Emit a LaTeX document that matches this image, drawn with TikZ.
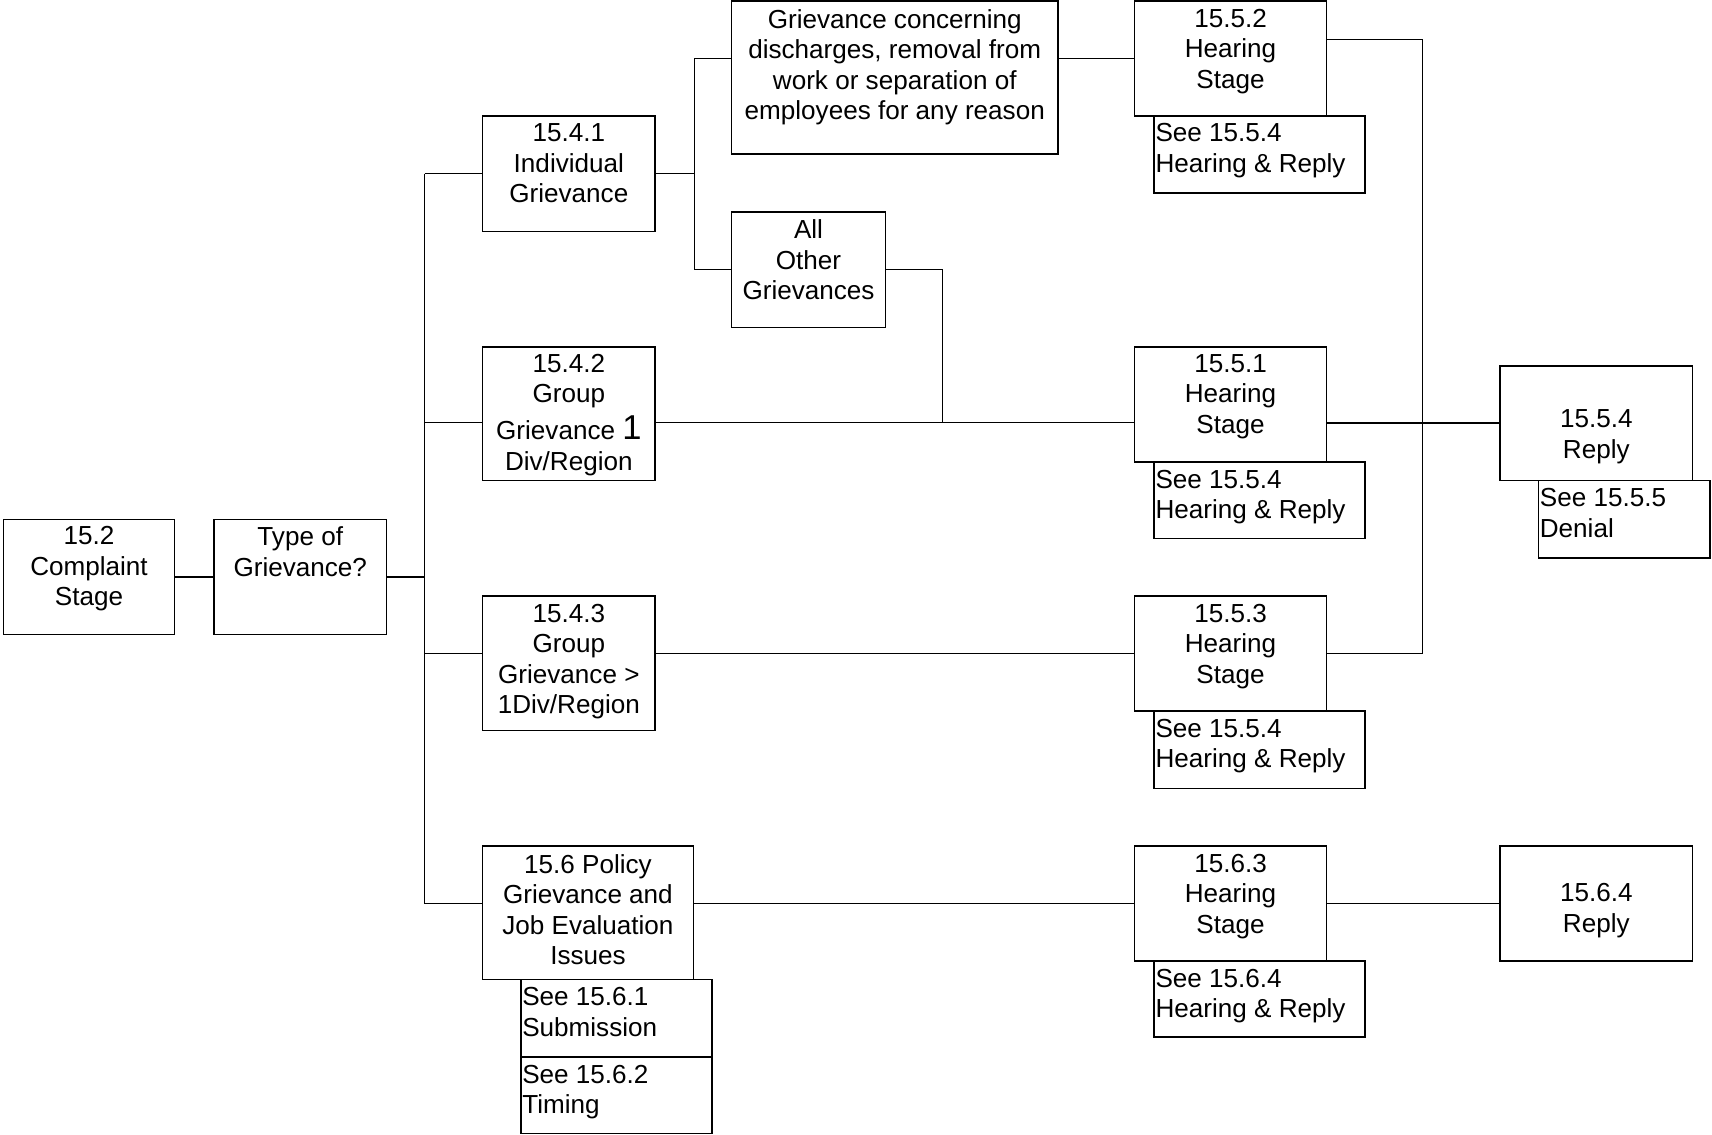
\documentclass[tikz,border=0pt]{standalone}
\usepackage{fontspec}
\setmainfont{Liberation Sans}
\usetikzlibrary{fit}
\begin{document}
\begin{tikzpicture}[x=0.02cm,y=-0.02cm,
  box/.style={draw, line width=0.8pt, inner sep=0pt, rectangle},
  txt/.style={font=\fontsize{13.6pt}{15.9pt}\selectfont, align=center, inner sep=0pt, anchor=north},
  ltxt/.style={font=\fontsize{13.6pt}{15.9pt}\selectfont, align=left, inner sep=0pt, anchor=north west},
  link/.style={line width=0.8pt}]
\useasboundingbox (0,0) rectangle (1568,1039.5);

% boxes
\node[box, fit={(3,476)(160,581)}] (c152) {};
\node[box, fit={(196,476)(354,581)}] (type) {};
\node[box, fit={(442,106)(600,212)}] (b1) {};
\node[box, fit={(442,318)(600,440)}] (b2) {};
\node[box, fit={(442,546)(600,669)}] (b3) {};
\node[box, fit={(442,775)(635,897)}] (b4) {};
\node[box, fit={(477,897)(652,968)}] (s61) {};
\node[box, fit={(477,968)(652,1038)}] (s62) {};
\node[box, fit={(670,1)(969,141)}] (gc) {};
\node[box, fit={(670,194)(811,300)}] (ao) {};
\node[box, fit={(1039,1)(1215,106)}] (h2) {};
\node[box, fit={(1057,106)(1250,177)}] (s2) {};
\node[box, fit={(1039,318)(1215,423)}] (h1) {};
\node[box, fit={(1057,423)(1250,493)}] (s1) {};
\node[box, fit={(1039,546)(1215,651)}] (h3) {};
\node[box, fit={(1057,651)(1250,722)}] (s3) {};
\node[box, fit={(1039,775)(1215,880)}] (h6) {};
\node[box, fit={(1057,880)(1250,950)}] (s6) {};
\node[box, fit={(1374,335)(1550,440)}] (r1) {};
\node[box, fit={(1409,440)(1566,511)}] (s55) {};
\node[box, fit={(1374,775)(1550,880)}] (r6) {};

% texts
\node[txt] (c152t) at (81.5,482) {15.2\\Complaint\\Stage};
\node[txt] (typet) at (275,482) {Type of\\Grievance?};
\node[txt] (b1t) at (521,113) {15.4.1\\Individual\\Grievance};
\node[txt] (b2t) at (521,324) {15.4.2\\Group\\[3.4pt]Grievance {\fontsize{18pt}{18pt}\selectfont 1}\\Div/Region};
\node[txt] (b3t) at (521,553) {15.4.3\\Group\\Grievance >\\1Div/Region};
\node[txt] (b4t) at (538.5,782) {15.6 Policy\\Grievance and\\Job Evaluation\\Issues};
\node[ltxt] (s61t) at (478,904) {See 15.6.1\\Submission};
\node[ltxt] (s62t) at (478,975) {See 15.6.2\\Timing};
\node[txt] (gct) at (819.5,8) {Grievance concerning\\discharges, removal from\\work or separation of\\employees for any reason};
\node[txt] (aot) at (740.5,201) {All\\Other\\Grievances};
\node[txt] (h2t) at (1127,8) {15.5.2\\Hearing\\Stage};
\node[ltxt] (s2t) at (1058,113) {See 15.5.4\\Hearing \& Reply};
\node[txt] (h1t) at (1127,324) {15.5.1\\Hearing\\Stage};
\node[ltxt] (s1t) at (1058,430) {See 15.5.4\\Hearing \& Reply};
\node[txt] (h3t) at (1127,553) {15.5.3\\Hearing\\Stage};
\node[ltxt] (s3t) at (1058,658) {See 15.5.4\\Hearing \& Reply};
\node[txt] (h6t) at (1127,782) {15.6.3\\Hearing\\Stage};
\node[ltxt] (s6t) at (1058,887) {See 15.6.4\\Hearing \& Reply};
\node[txt] (r1t) at (1462,375) {15.5.4\\Reply};
\node[ltxt] (s55t) at (1410,447) {See 15.5.5\\Denial};
\node[txt] (r6t) at (1462,809) {15.6.4\\Reply};

% helper coordinates
\coordinate (busx) at (389,0);
\coordinate (jx) at (636,0);
\coordinate (kx) at (863,0);
\coordinate (mx) at (1303,0);
\coordinate (y2) at (0,387);
\coordinate (y0) at (0,36);

% connectors
\draw[link] (c152.east) -- (type.west);
\draw[link] (type.east) -- (busx |- type.east);
\draw[link] (busx |- b1.west) -- (busx |- h6.west);
\draw[link] (busx |- b1.west) -- (b1.west);
\draw[link] (busx |- y2) -- (b2.west |- y2);
\draw[link] (busx |- h3.west) -- (b3.west |- h3.west);
\draw[link] (busx |- h6.west) -- (b4.west |- h6.west);
\draw[link] (b1.east) -- (jx |- b1.east);
\draw[link] (gc.west |- h2.west) -- (jx |- h2.west) -- (jx |- ao.west) -- (ao.west);
\draw[link] (gc.east |- h2.west) -- (h2.west);
\draw[link] (ao.east) -- (kx |- ao.east) -- (kx |- y2);
\draw[link] (b2.east |- y2) -- (h1.west |- y2);
\draw[link] (b3.east |- h3.west) -- (h3.west);
\draw[link] (b4.east |- h6.west) -- (h6.west);
\draw[link] (h2.east |- y0) -- (mx |- y0) -- (mx |- h3.east) -- (h3.east);
\draw[link] (h1.east |- r1.west) -- (r1.west);
\draw[link] (h6.east) -- (r6.west);
\end{tikzpicture}
\end{document}
